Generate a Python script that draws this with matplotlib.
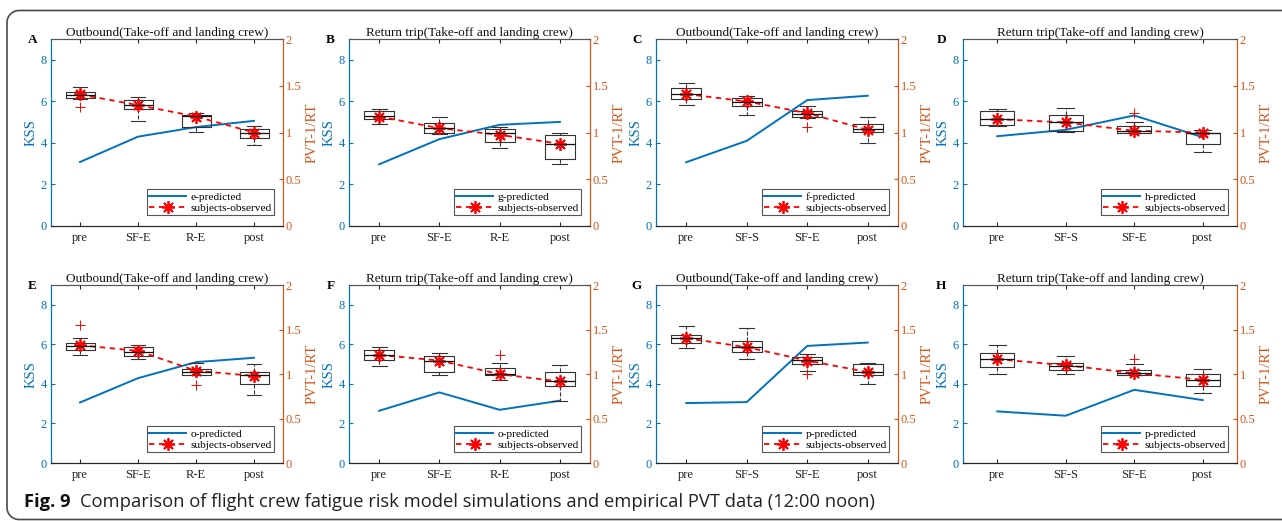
import matplotlib
matplotlib.use('Agg')
import matplotlib.pyplot as plt
from matplotlib.patches import PathPatch
from matplotlib.path import Path

plt.rcParams['font.family'] = ['Liberation Serif', 'DejaVu Serif']

BLUE = '#0072BD'
ORANGE = '#D95319'
DARK = '#262626'

# ---------------- data ----------------
panel_letters = ['A', 'B', 'C', 'D', 'E', 'F', 'G', 'H']
titles = ['Outbound(Take-off and landing crew)', 'Return trip(Take-off and landing crew)',
          'Outbound(Take-off and landing crew)', 'Return trip(Take-off and landing crew)',
          'Outbound(Take-off and landing crew)', 'Return trip(Take-off and landing crew)',
          'Outbound(Take-off and landing crew)', 'Return trip(Take-off and landing crew)']
categories = [['pre', 'SF-E', 'R-E', 'post'], ['pre', 'SF-E', 'R-E', 'post'],
              ['pre', 'SF-S', 'SF-E', 'post'], ['pre', 'SF-S', 'SF-E', 'post'],
              ['pre', 'SF-E', 'R-E', 'post'], ['pre', 'SF-E', 'R-E', 'post'],
              ['pre', 'SF-S', 'SF-E', 'post'], ['pre', 'SF-S', 'SF-E', 'post']]
pred_labels = ['e-predicted', 'g-predicted', 'f-predicted', 'h-predicted',
               'o-predicted', 'o-predicted', 'p-predicted', 'p-predicted']
obs_label = 'subjects-observed'

# predicted KSS (left axis)
kss_pred = [[3.08, 4.30, 4.76, 5.06],
            [2.97, 4.18, 4.87, 5.01],
            [3.07, 4.10, 6.06, 6.27],
            [4.32, 4.63, 5.32, 4.27],
            [3.06, 4.29, 5.10, 5.32],
            [2.64, 3.57, 2.69, 3.15],
            [3.03, 3.08, 5.92, 6.09],
            [2.61, 2.39, 3.70, 3.18]]

# observed PVT-1/RT (right axis): means and box statistics
pvt_mean = [[1.407, 1.293, 1.171, 1.000],
            [1.171, 1.046, 0.975, 0.879],
            [1.411, 1.332, 1.207, 1.029],
            [1.143, 1.107, 1.018, 1.000],
            [1.323, 1.260, 1.036, 0.979],
            [1.215, 1.151, 0.998, 0.916],
            [1.402, 1.301, 1.151, 1.021],
            [1.166, 1.099, 1.009, 0.935]]
pvt_q1 = [[1.364, 1.250, 1.054, 0.946],
          [1.146, 0.993, 0.896, 0.718],
          [1.357, 1.279, 1.161, 1.007],
          [1.079, 1.011, 1.000, 0.879],
          [1.267, 1.207, 0.991, 0.890],
          [1.155, 1.028, 0.994, 0.867],
          [1.353, 1.245, 1.114, 0.994],
          [1.077, 1.047, 0.994, 0.860]]
pvt_med = [[1.404, 1.293, 1.180, 1.000],
           [1.179, 1.043, 0.993, 0.875],
           [1.414, 1.321, 1.196, 1.036],
           [1.143, 1.107, 1.018, 0.993],
           [1.316, 1.252, 1.028, 0.991],
           [1.211, 1.151, 1.002, 0.916],
           [1.406, 1.305, 1.159, 1.021],
           [1.170, 1.092, 1.010, 0.935]]
pvt_q3 = [[1.436, 1.350, 1.189, 1.036],
          [1.225, 1.100, 1.036, 0.975],
          [1.471, 1.364, 1.229, 1.096],
          [1.229, 1.182, 1.068, 1.000],
          [1.353, 1.301, 1.054, 1.021],
          [1.267, 1.207, 1.069, 1.017],
          [1.443, 1.368, 1.189, 1.110],
          [1.234, 1.129, 1.050, 0.998]]
pvt_wlo = [[1.360, 1.121, 1.004, 0.871],
           [1.089, 0.979, 0.832, 0.661],
           [1.289, 1.189, 1.154, 0.886],
           [1.071, 1.004, 1.000, 0.793],
           [1.215, 1.166, 0.985, 0.766],
           [1.092, 0.991, 0.931, 0.692],
           [1.290, 1.166, 1.039, 0.890],
           [0.998, 0.998, 0.994, 0.785]]
pvt_whi = [[1.486, 1.375, 1.207, 1.071],
           [1.254, 1.161, 1.061, 1.000],
           [1.529, 1.386, 1.279, 1.171],
           [1.254, 1.261, 1.107, 1.029],
           [1.409, 1.327, 1.121, 1.114],
           [1.308, 1.241, 1.129, 1.103],
           [1.540, 1.518, 1.222, 1.129],
           [1.327, 1.207, 1.107, 1.058]]
pvt_outliers = [[[1.268], [], [], []],
                [[], [], [], []],
                [[], [], [1.054], []],
                [[], [], [1.207], []],
                [[1.551], [], [0.879], []],
                [[], [], [1.215], []],
                [[], [], [0.998], []],
                [[], [], [1.166], []]]

kss_ticks = [0, 2, 4, 6, 8]
pvt_ticks = [0, 0.5, 1, 1.5, 2]
pvt_ticklabels = ['0', '0.5', '1', '1.5', '2']

caption_bold = 'Fig. 9'
caption_text = 'Comparison of flight crew fatigue risk model simulations and empirical PVT data (12:00 noon)'

# ---------------- layout ----------------
W, H = 1282, 521
fig = plt.figure(figsize=(W / 100, H / 100), dpi=100)
fig.patch.set_facecolor('white')

col_px = [(51, 283), (349, 590), (656, 898), (963, 1237)]
row_px = [(39, 226), (285, 463)]

# outer frame: open on the right, rounded corners on the left (inches from bottom-left)
xl, yb, yt, rad, xr = 0.07, 0.015, 5.105, 0.12, 13.5
kk = 0.5523 * rad
verts = [(xr, yt), (xl + rad, yt),
         (xl + rad - kk, yt), (xl, yt - rad + kk), (xl, yt - rad),
         (xl, yb + rad),
         (xl, yb + rad - kk), (xl + rad - kk, yb), (xl + rad, yb),
         (xr, yb)]
codes = [Path.MOVETO, Path.LINETO,
         Path.CURVE4, Path.CURVE4, Path.CURVE4,
         Path.LINETO,
         Path.CURVE4, Path.CURVE4, Path.CURVE4,
         Path.LINETO]
frame = PathPatch(Path(verts, codes), transform=fig.dpi_scale_trans, facecolor='none',
                  edgecolor='#4a4a4a', linewidth=1.2, clip_on=False)
fig.patches.append(frame)

asterisk = (8, 2, 0)
TS = 9

for i in range(8):
    r, c = divmod(i, 4)
    x0, x1 = col_px[c]
    y0, y1 = row_px[r]
    ax = fig.add_axes([x0 / W, 1 - y1 / H, (x1 - x0) / W, (y1 - y0) / H])
    ax2 = ax.twinx()
    xs = list(range(1, 5))

    # left axis: predicted KSS
    ln1, = ax.plot(xs, kss_pred[i], color=BLUE, lw=1.4, label=pred_labels[i])
    ax.set_ylim(0, 9)
    ax.set_xlim(0.5, 4.5)
    ax.set_yticks(kss_ticks)
    ax.set_xticks(xs)
    ax.set_xticklabels(categories[i])
    ax.tick_params(axis='y', colors=BLUE, direction='in', length=3, labelsize=TS, pad=3)
    ax.tick_params(axis='x', colors=DARK, direction='in', length=3, labelsize=TS, pad=4,
                   top=True, labelcolor='#222222')
    ax.set_ylabel('KSS', color=BLUE, fontsize=10.5, labelpad=2)

    # right axis: observed PVT
    stats = []
    for k2 in range(4):
        stats.append(dict(med=pvt_med[i][k2], q1=pvt_q1[i][k2], q3=pvt_q3[i][k2],
                          whislo=pvt_wlo[i][k2], whishi=pvt_whi[i][k2],
                          fliers=pvt_outliers[i][k2]))
    ax2.bxp(stats, positions=xs, widths=0.5, showfliers=True, manage_ticks=False,
            boxprops=dict(color='#333333', lw=0.8),
            medianprops=dict(color='#111111', lw=0.9),
            whiskerprops=dict(color='#333333', lw=0.8, ls='--'),
            capprops=dict(color='#333333', lw=0.8),
            capwidths=0.25,
            flierprops=dict(marker='+', markeredgecolor='red', markersize=7,
                            markeredgewidth=0.7, linestyle='none'))
    ln2, = ax2.plot(xs, pvt_mean[i], color='red', ls='--', lw=1.3, marker=asterisk,
                    markersize=9, markeredgewidth=1.3, label=obs_label,
                    dashes=(3, 2.5))
    ax2.set_ylim(0, 2)
    ax2.set_yticks(pvt_ticks)
    ax2.set_yticklabels(pvt_ticklabels)
    ax2.tick_params(axis='y', colors=ORANGE, direction='in', length=3, labelsize=TS, pad=2)
    ax2.set_ylabel('PVT-1/RT', color=ORANGE, fontsize=10.5, labelpad=3)

    for a in (ax, ax2):
        a.spines['left'].set_color(BLUE)
        a.spines['right'].set_color(ORANGE)
        a.spines['top'].set_color('#555555')
        a.spines['bottom'].set_color(DARK)
        for s in a.spines.values():
            s.set_linewidth(0.8)

    ax.set_title(titles[i], fontsize=9.5, pad=2, color='#111111')
    ax.text(-0.06, 0.995, panel_letters[i], transform=ax.transAxes, fontsize=9.5,
            fontweight='bold', ha='right', va='center')

    leg = ax2.legend([ln1, ln2], [pred_labels[i], obs_label], loc='lower right',
                     bbox_to_anchor=(1 - 9 / (x1 - x0), 11 / (y1 - y0)),
                     fontsize=8.2, frameon=True, fancybox=False, edgecolor='#555555',
                     framealpha=1, borderpad=0.2, labelspacing=0.1,
                     handlelength=3.2, handletextpad=0.4, borderaxespad=0.0,
                     numpoints=1)
    leg.get_frame().set_linewidth(0.8)

# caption
cap_y = 1 - 502 / H
t1 = fig.text(24 / W, cap_y, caption_bold, fontsize=13.2, fontweight='bold',
              family=['Open Sans', 'DejaVu Sans'], va='center', ha='left', color='#111111')
fig.canvas.draw()
bb = t1.get_window_extent(renderer=fig.canvas.get_renderer())
fig.text((bb.x1 + 9) / W, cap_y, caption_text, fontsize=13.2,
         family=['Open Sans', 'DejaVu Sans'], va='center', ha='left', color='#222222')

fig.savefig('out.png', dpi=100, facecolor='white')
